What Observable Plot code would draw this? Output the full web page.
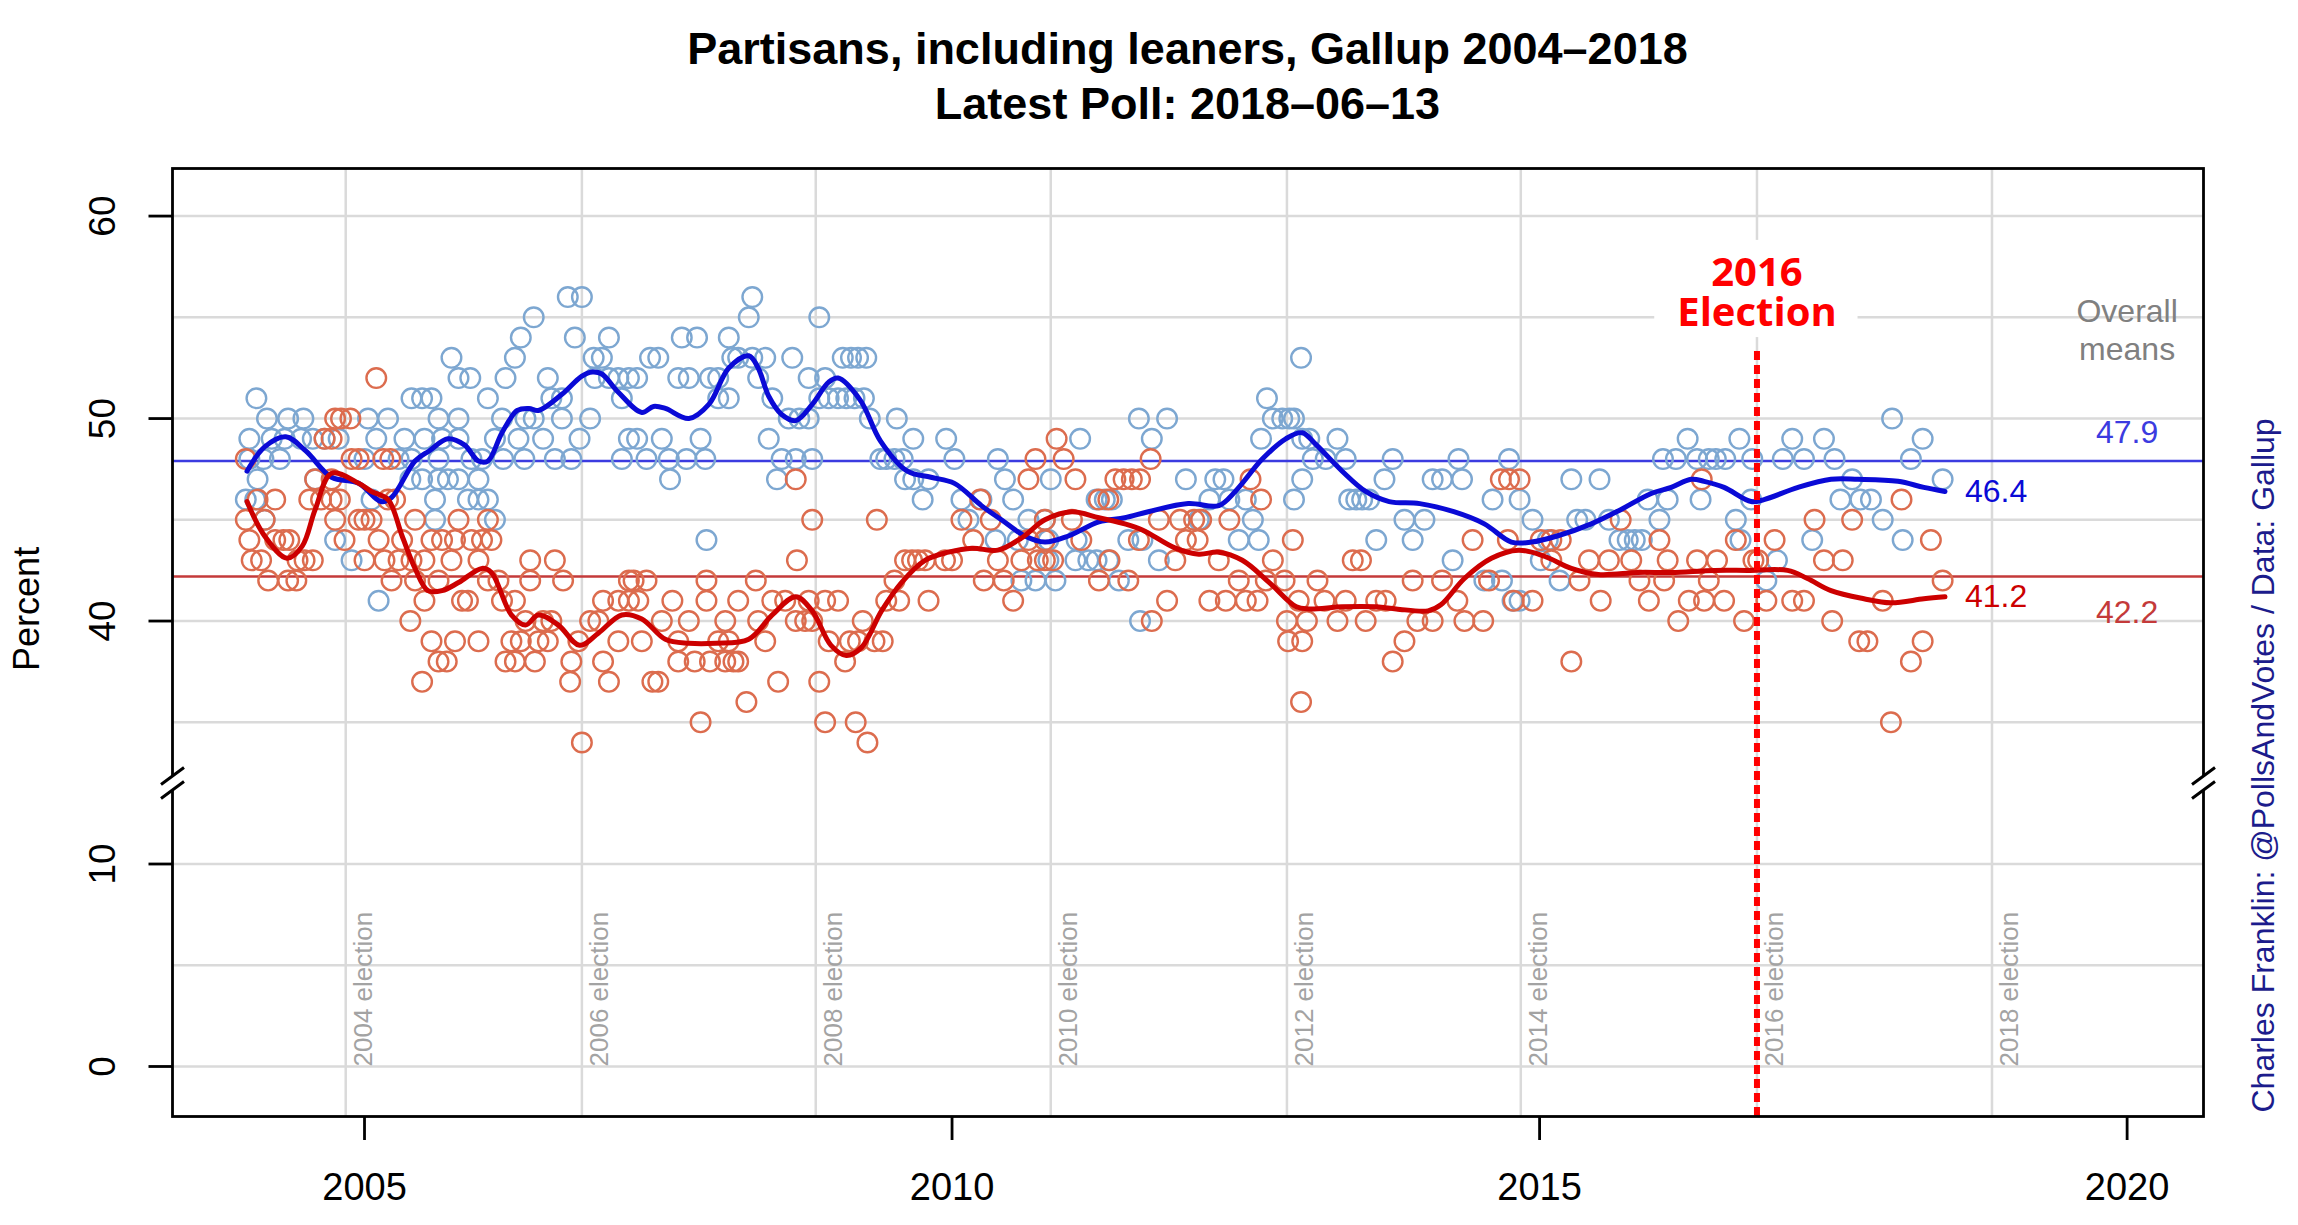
<!DOCTYPE html>
<html><head><meta charset="utf-8">
<script src="https://cdn.jsdelivr.net/npm/d3@7"></script>
<script src="https://cdn.jsdelivr.net/npm/@observablehq/plot@0.6"></script>
<style>
body{margin:0;background:#fff;width:2298px;height:1225px;overflow:hidden;font-family:"Liberation Sans",Arial,sans-serif}
#title{position:relative;height:160px;width:2298px}
#title div{position:absolute;left:172px;width:2031px;text-align:center;font-weight:bold;font-size:45px;color:#000;line-height:1;white-space:nowrap}
</style></head>
<body>
<div id="title"><div style="top:26px">Partisans, including leaners, Gallup 2004–2018</div><div style="top:81px">Latest Poll: 2018–06–13</div></div>
<div id="chart"></div>
<script>
// ---- data (decimal year, percent) ----
const demPolls = [
[2003.99,46],[2004.02,49],[2004.02,48],[2004.07,46],[2004.08,51],[2004.09,47],[2004.14,48],[2004.15,45],[2004.17,50],[2004.21,49],[2004.28,48],[2004.32,49],[2004.35,50],[2004.46,49],[2004.48,50],[2004.56,49],[2004.58,47],[2004.66,49],[2004.75,44],[2004.78,49],[2004.89,43],
[2005.00,48],[2005.03,50],[2005.06,46],[2005.10,49],[2005.12,41],[2005.20,50],[2005.29,48],[2005.34,49],[2005.39,47],[2005.40,51],[2005.40,48],[2005.49,51],[2005.49,47],[2005.51,49],[2005.57,51],[2005.60,46],[2005.60,45],[2005.63,50],[2005.63,48],[2005.63,47],[2005.66,49],[2005.71,47],[2005.74,53],[2005.80,52],[2005.80,50],[2005.80,49],[2005.80,47],[2005.88,46],[2005.90,52],[2005.91,48],[2005.97,47],[2005.97,46],
[2006.00,48],[2006.05,51],[2006.05,46],[2006.11,49],[2006.11,45],[2006.17,50],[2006.18,48],[2006.20,52],[2006.28,53],[2006.31,49],[2006.33,54],[2006.36,48],[2006.37,50],[2006.44,55],[2006.44,50],[2006.52,49],[2006.56,52],[2006.59,51],[2006.62,48],[2006.68,51],[2006.68,50],[2006.73,56],[2006.76,48],[2006.79,54],[2006.83,49],[2006.85,56],[2006.92,50],[2006.95,53],[2006.96,52],
[2007.02,53],[2007.08,54],[2007.08,52],[2007.16,52],[2007.19,51],[2007.19,48],[2007.25,52],[2007.25,49],[2007.32,52],[2007.32,49],[2007.40,48],[2007.43,53],[2007.50,53],[2007.53,49],[2007.59,48],[2007.60,47],[2007.67,52],[2007.70,54],[2007.74,48],[2007.76,52],[2007.83,54],[2007.86,49],[2007.90,48],[2007.91,44],[2007.94,52],
[2008.01,52],[2008.01,51],[2008.10,54],[2008.10,51],[2008.13,53],[2008.18,53],[2008.27,55],[2008.30,56],[2008.30,53],[2008.35,52],[2008.41,53],[2008.44,49],[2008.47,51],[2008.51,47],[2008.55,48],[2008.61,50],[2008.64,53],[2008.67,48],[2008.70,50],[2008.78,52],[2008.78,50],[2008.81,48],[2008.87,55],[2008.87,51],[2008.92,52],[2008.95,51],
[2009.03,51],[2009.07,53],[2009.10,51],[2009.14,53],[2009.17,51],[2009.20,53],[2009.25,51],[2009.27,53],[2009.30,50],[2009.39,48],[2009.44,48],[2009.51,48],[2009.53,50],[2009.58,48],[2009.60,47],[2009.67,49],[2009.67,47],[2009.75,46],[2009.80,47],[2009.95,49],
[2010.02,48],[2010.08,46],[2010.14,45],[2010.25,46],[2010.37,44],[2010.39,48],[2010.45,47],[2010.52,46],[2010.56,44],[2010.59,42],[2010.65,45],[2010.71,42],[2010.79,45],[2010.82,44],[2010.82,43],[2010.84,47],[2010.88,42],
[2011.05,43],[2011.06,44],[2011.09,49],[2011.16,43],[2011.23,46],[2011.23,43],[2011.30,46],[2011.33,43],[2011.36,46],[2011.42,42],[2011.50,44],[2011.59,50],[2011.60,40],[2011.62,44],[2011.70,49],[2011.76,43],[2011.83,50],[2011.99,47],
[2012.10,45],[2012.19,46],[2012.24,47],[2012.31,47],[2012.36,46],[2012.44,44],[2012.50,46],[2012.56,45],[2012.61,44],[2012.63,49],[2012.68,51],[2012.73,50],[2012.81,50],[2012.87,50],[2012.91,50],[2012.91,46],[2012.97,53],[2012.98,49],[2012.98,47],
[2013.04,49],[2013.07,48],[2013.18,48],[2013.28,49],[2013.35,48],[2013.38,46],[2013.44,46],[2013.49,46],[2013.55,46],[2013.61,44],[2013.68,47],[2013.75,48],[2013.85,45],[2013.92,44],
[2014.02,45],[2014.09,47],[2014.17,47],[2014.26,43],[2014.31,48],[2014.34,47],[2014.53,42],[2014.60,46],[2014.68,42],[2014.74,48],[2014.77,41],[2014.83,46],[2014.83,41],[2014.94,45],
[2015.01,43],[2015.07,44],[2015.17,42],[2015.27,47],[2015.32,45],[2015.39,45],[2015.51,47],[2015.59,45],[2015.68,44],[2015.75,44],[2015.81,44],[2015.87,44],[2015.92,46],
[2016.02,45],[2016.05,48],[2016.09,46],[2016.16,48],[2016.26,49],[2016.34,48],[2016.37,46],[2016.44,48],[2016.50,48],[2016.58,48],[2016.67,45],[2016.70,49],[2016.71,44],[2016.80,46],[2016.81,48],[2016.93,42],
[2017.02,43],[2017.07,48],[2017.15,49],[2017.25,48],[2017.32,44],[2017.42,49],[2017.51,48],[2017.56,46],[2017.66,47],[2017.73,46],[2017.82,46],[2017.92,45],
[2018.00,50],[2018.09,44],[2018.16,48],[2018.26,49],[2018.43,47]
];
const repPolls = [
[2003.99,48],[2003.99,45],[2004.02,44],[2004.04,43],[2004.09,46],[2004.12,43],[2004.15,45],[2004.18,42],[2004.24,46],[2004.24,44],[2004.31,44],[2004.35,42],[2004.36,44],[2004.42,42],[2004.43,43],[2004.49,43],[2004.53,46],[2004.56,43],[2004.58,47],[2004.63,46],[2004.66,49],[2004.72,49],[2004.72,47],[2004.72,46],[2004.75,50],[2004.75,45],[2004.79,46],[2004.80,50],[2004.83,44],[2004.88,50],[2004.89,48],[2004.95,48],[2004.95,45],
[2005.00,45],[2005.00,43],[2005.06,45],[2005.10,52],[2005.12,44],[2005.16,48],[2005.17,43],[2005.20,46],[2005.22,48],[2005.23,42],[2005.26,46],[2005.29,43],[2005.32,44],[2005.39,40],[2005.40,43],[2005.43,45],[2005.43,42],[2005.49,37],[2005.51,43],[2005.51,41],[2005.57,44],[2005.57,39],[2005.63,42],[2005.63,38],[2005.66,44],[2005.70,38],[2005.74,43],[2005.77,44],[2005.77,39],[2005.80,45],[2005.83,41],[2005.88,41],[2005.91,44],[2005.97,43],[2005.97,39],
[2006.00,44],[2006.05,45],[2006.05,42],[2006.08,44],[2006.14,42],[2006.17,41],[2006.20,38],[2006.25,39],[2006.28,41],[2006.28,38],[2006.33,39],[2006.37,40],[2006.41,43],[2006.41,42],[2006.45,38],[2006.48,39],[2006.52,40],[2006.56,39],[2006.59,40],[2006.62,43],[2006.69,42],[2006.75,37],[2006.76,38],[2006.82,39],[2006.85,34],[2006.92,40],[2006.99,40],
[2007.03,41],[2007.03,38],[2007.08,37],[2007.16,41],[2007.16,39],[2007.25,42],[2007.25,41],[2007.29,42],[2007.33,41],[2007.36,39],[2007.40,42],[2007.45,37],[2007.50,37],[2007.53,40],[2007.62,41],[2007.67,39],[2007.67,38],[2007.76,40],[2007.81,38],[2007.86,35],[2007.91,42],[2007.91,41],[2007.94,38],
[2008.01,39],[2008.07,40],[2008.07,38],[2008.10,39],[2008.14,38],[2008.18,41],[2008.18,38],[2008.25,36],[2008.33,42],[2008.35,40],[2008.41,39],[2008.47,41],[2008.52,37],[2008.58,41],[2008.67,47],[2008.67,40],[2008.68,43],[2008.75,40],[2008.78,41],[2008.81,45],[2008.81,40],[2008.87,37],[2008.92,41],[2008.92,35],[2008.95,39],
[2009.03,41],[2009.09,38],[2009.13,39],[2009.18,35],[2009.20,39],[2009.24,40],[2009.28,34],[2009.34,39],[2009.36,45],[2009.41,39],[2009.44,41],[2009.51,42],[2009.55,41],[2009.60,43],[2009.66,43],[2009.71,43],[2009.77,43],[2009.80,41],[2009.94,43],
[2010.00,43],[2010.08,45],[2010.18,44],[2010.24,46],[2010.27,42],[2010.33,45],[2010.39,43],[2010.44,42],[2010.52,41],[2010.59,43],[2010.65,47],[2010.65,44],[2010.71,48],[2010.73,43],[2010.79,45],[2010.79,44],[2010.79,43],[2010.86,43],[2010.89,49],[2010.95,48],
[2011.02,45],[2011.05,47],[2011.10,44],[2011.25,46],[2011.25,42],[2011.33,46],[2011.34,43],[2011.39,47],[2011.46,47],[2011.50,42],[2011.53,47],[2011.59,44],[2011.60,47],[2011.69,48],[2011.70,40],[2011.76,45],[2011.83,41],[2011.90,43],[2011.94,45],[2011.99,44],
[2012.06,45],[2012.09,44],[2012.12,45],[2012.19,41],[2012.27,43],[2012.33,41],[2012.36,45],[2012.44,42],[2012.50,41],[2012.54,47],[2012.60,41],[2012.63,46],[2012.67,42],[2012.73,43],[2012.83,42],[2012.85,40],[2012.86,39],[2012.90,44],[2012.95,41],[2012.97,36],[2012.98,39],
[2013.02,40],[2013.11,42],[2013.17,41],[2013.28,40],[2013.35,41],[2013.41,43],[2013.48,43],[2013.52,40],[2013.61,41],[2013.69,41],[2013.75,38],[2013.85,39],[2013.92,42],[2013.96,40],
[2014.09,40],[2014.17,42],[2014.30,41],[2014.36,40],[2014.43,44],[2014.52,40],[2014.57,42],[2014.67,47],[2014.73,44],[2014.74,47],[2014.78,41],[2014.83,47],[2014.94,41],
[2015.01,44],[2015.10,44],[2015.10,43],[2015.18,44],[2015.27,38],[2015.34,42],[2015.42,43],[2015.52,41],[2015.59,43],[2015.69,45],[2015.78,43],[2015.85,42],[2015.93,41],
[2016.02,44],[2016.06,42],[2016.09,43],[2016.18,40],[2016.27,41],[2016.34,43],[2016.38,47],[2016.40,41],[2016.44,42],[2016.51,43],[2016.57,41],[2016.67,44],[2016.74,40],[2016.82,43],[2016.86,43],[2016.93,41],
[2017.00,44],[2017.15,41],[2017.25,41],[2017.34,45],[2017.42,43],[2017.49,40],[2017.58,43],[2017.66,45],[2017.72,39],[2017.79,39],[2017.92,41],[2017.99,35],
[2018.08,46],[2018.16,38],[2018.26,39],[2018.33,44],[2018.43,42]
];
const demTrend = [
[2004.00,47.4],[2004.15,48.6],[2004.33,49.1],[2004.50,48.4],[2004.72,47.1],[2004.95,46.8],[2005.14,45.9],[2005.23,46.1],[2005.43,47.9],[2005.55,48.4],[2005.71,49.0],[2005.85,48.7],[2005.97,47.9],[2006.05,47.9],[2006.17,49.3],[2006.30,50.4],[2006.40,50.5],[2006.48,50.4],[2006.68,51.2],[2006.85,52.1],[2006.94,52.3],[2007.02,52.2],[2007.16,51.3],[2007.36,50.3],[2007.46,50.6],[2007.56,50.5],[2007.76,50.0],[2007.93,50.7],[2008.10,52.5],[2008.27,53.1],[2008.35,52.5],[2008.44,51.1],[2008.55,50.2],[2008.67,49.9],[2008.81,50.7],[2008.95,51.8],[2009.03,52.0],[2009.22,50.9],[2009.39,48.9],[2009.62,47.4],[2009.82,47.1],[2010.02,46.8],[2010.25,45.7],[2010.42,45.0],[2010.62,44.2],[2010.79,43.9],[2010.99,44.2],[2011.25,44.9],[2011.47,45.1],[2011.67,45.4],[2012.01,45.8],[2012.27,45.7],[2012.41,46.4],[2012.64,48.0],[2012.84,49.0],[2012.98,49.3],[2013.10,48.7],[2013.32,47.4],[2013.52,46.4],[2013.72,45.9],[2013.98,45.8],[2014.27,45.4],[2014.53,44.8],[2014.76,43.9],[2014.93,43.9],[2015.15,44.2],[2015.44,44.8],[2015.69,45.5],[2015.95,46.3],[2016.12,46.6],[2016.29,47.0],[2016.40,46.9],[2016.57,46.6],[2016.80,45.9],[2016.91,46.0],[2017.20,46.6],[2017.48,47.0],[2017.71,47.0],[2018.05,46.9],[2018.27,46.6],[2018.45,46.4]
];
const repTrend = [
[2004.00,45.9],[2004.15,44.2],[2004.34,43.1],[2004.47,43.7],[2004.58,45.5],[2004.72,47.3],[2004.95,46.8],[2005.06,46.4],[2005.20,46.0],[2005.32,44.2],[2005.43,42.6],[2005.54,41.5],[2005.66,41.5],[2005.80,41.9],[2006.00,42.6],[2006.08,42.4],[2006.25,40.3],[2006.37,39.8],[2006.48,40.3],[2006.65,39.8],[2006.83,38.8],[2006.99,39.4],[2007.19,40.3],[2007.36,40.1],[2007.56,39.1],[2007.76,38.9],[2007.99,38.9],[2008.27,39.1],[2008.47,40.3],[2008.67,41.2],[2008.81,40.5],[2008.97,38.8],[2009.10,38.3],[2009.23,38.7],[2009.40,40.5],[2009.57,41.9],[2009.77,43.0],[2009.97,43.4],[2010.17,43.6],[2010.39,43.5],[2010.59,44.1],[2010.79,45.0],[2011.02,45.4],[2011.25,45.1],[2011.47,44.8],[2011.62,44.5],[2011.90,43.6],[2012.10,43.3],[2012.27,43.4],[2012.47,43.0],[2012.70,41.9],[2012.93,40.7],[2013.04,40.6],[2013.32,40.7],[2013.61,40.7],[2013.78,40.6],[2014.05,40.5],[2014.16,40.8],[2014.36,42.1],[2014.59,43.1],[2014.82,43.5],[2015.04,43.2],[2015.27,42.6],[2015.50,42.3],[2015.84,42.4],[2016.12,42.4],[2016.49,42.5],[2016.77,42.5],[2017.11,42.5],[2017.28,42.1],[2017.48,41.5],[2017.76,41.1],[2017.99,40.9],[2018.27,41.1],[2018.45,41.2]
];
const overallMeans = [47.9, 42.2];           // Dem, Rep
const electionYears = [2004, 2006, 2008, 2010, 2012, 2014, 2016, 2018];
const electionDates = [2004.84, 2006.85, 2008.84, 2010.84, 2012.85, 2014.84, 2016.85, 2018.85];
const xTicks = [2005, 2010, 2015, 2020];
const yTicks = [0, 10, 40, 50, 60];
const yGrid = [0, 5, 10, 35, 40, 45, 50, 55, 60];
const breakAt = 14;          // broken axis position (lower-panel units)

// ---- styling ----
const DEM_PT = "#7da7d1", REP_PT = "#dc6c4e";
const DEM_LN = "#0a0ad6", REP_LN = "#cc0000";
const DEM_MEAN = "#3b3be0", REP_MEAN = "#c43a3a";
const GRID = "#dadada";

// broken y axis: values above the gap are shifted down by 18
const brk = v => v >= 25 ? v - 18 : v;

const tickLeft = {draw(ctx) { ctx.moveTo(-24, 0); ctx.lineTo(0, 0); }};
const gap = {draw(ctx) { ctx.rect(-4, -7, 8, 14); }};
const slashes = {draw(ctx) {
  ctx.moveTo(-11.5, 1.5); ctx.lineTo(11.5, -15.5);
  ctx.moveTo(-11.5, 15.5); ctx.lineTo(11.5, -1.5);
}};

const demLast = demTrend[demTrend.length - 1];
const repLast = repTrend[repTrend.length - 1];
// annotation: note text and its white backing box (years / percent)
const electionNote = ["2016\nElection"];
const noteBox = [{x1: 2015.98, x2: 2017.71, y1: 54.0, y2: 58.8}];

const chart = Plot.plot({
  width: 2298,
  height: 1065,
  marginLeft: 172,
  marginRight: 95,
  marginTop: 8,
  marginBottom: 109,
  style: {fontFamily: "Liberation Sans, Arial, sans-serif", background: "white", color: "black"},
  x: {domain: [2003.366, 2020.65]},
  y: {domain: [-2.47, 44.35], transform: brk, axis: null},
  marks: [
    Plot.ruleY(yGrid, {stroke: GRID, strokeWidth: 2.5}),
    Plot.ruleX(electionDates, {stroke: GRID, strokeWidth: 2.5}),
    Plot.text(electionDates, {x: d => d, y: 0, text: (d, i) => `${electionYears[i]} election`, rotate: -90, textAnchor: "start", lineAnchor: "middle", dx: 18, fill: "#a3a3a3", fontSize: 26}),
    Plot.ruleY([overallMeans[0]], {stroke: DEM_MEAN, strokeWidth: 2.5}),
    Plot.ruleY([overallMeans[1]], {stroke: REP_MEAN, strokeWidth: 2.5}),
    Plot.dot(demPolls, {x: d => d[0], y: d => d[1], r: 9.8, stroke: DEM_PT, strokeWidth: 2.4, fill: "none"}),
    Plot.dot(repPolls, {x: d => d[0], y: d => d[1], r: 9.8, stroke: REP_PT, strokeWidth: 2.4, fill: "none"}),
    Plot.line(demTrend, {x: d => d[0], y: d => d[1], stroke: DEM_LN, strokeWidth: 5, curve: "catmull-rom"}),
    Plot.line(repTrend, {x: d => d[0], y: d => d[1], stroke: REP_LN, strokeWidth: 5, curve: "catmull-rom"}),
    Plot.ruleX([electionDates[6]], {y1: -2.47, y2: 53.4, stroke: "#ff0000", strokeWidth: 6, strokeDasharray: "9,5"}),
    Plot.rect(noteBox, {x1: "x1", x2: "x2", y1: "y1", y2: "y2", fill: "white"}),
    Plot.text(electionNote, {x: electionDates[6], y: 56.2, fill: "#ff0000", fontFamily: "Open Sans", fontWeight: 700, fontSize: 40, lineHeight: 1}),
    Plot.text(["Overall\nmeans"], {x: 2020, y: 54.45, fill: "#808080", fontSize: 32, lineHeight: 1.2}),
    Plot.text([overallMeans[0]], {x: 2020, y: d => d, text: d => d.toFixed(1), dy: -28, fill: DEM_MEAN, fontSize: 32}),
    Plot.text([overallMeans[1]], {x: 2020, y: d => d, text: d => d.toFixed(1), dy: 36, fill: REP_MEAN, fontSize: 32}),
    Plot.text([demLast], {x: d => d[0], y: d => d[1], text: d => d[1].toFixed(1), textAnchor: "start", dx: 20, fill: DEM_LN, fontSize: 32}),
    Plot.text([repLast], {x: d => d[0], y: d => d[1], text: d => d[1].toFixed(1), textAnchor: "start", dx: 20, fill: REP_LN, fontSize: 32}),
    Plot.frame({stroke: "black", strokeWidth: 2.8}),
    Plot.dot([breakAt], {y: d => d, frameAnchor: "left", symbol: gap, fill: "white", stroke: "none"}),
    Plot.dot([breakAt], {y: d => d, frameAnchor: "right", symbol: gap, fill: "white", stroke: "none"}),
    Plot.dot([breakAt], {y: d => d, frameAnchor: "left", symbol: slashes, fill: "none", stroke: "black", strokeWidth: 3}),
    Plot.dot([breakAt], {y: d => d, frameAnchor: "right", symbol: slashes, fill: "none", stroke: "black", strokeWidth: 3}),
    Plot.dot(yTicks, {y: d => d, frameAnchor: "left", symbol: tickLeft, fill: "none", stroke: "black", strokeWidth: 2.8}),
    Plot.text(yTicks, {y: d => d, text: d => String(d), frameAnchor: "left", textAnchor: "middle", lineAnchor: "middle", dx: -69, rotate: -90, fontSize: 37, fill: "black"}),
    Plot.axisX({ticks: xTicks, tickFormat: d => String(d), tickSize: 24, tickPadding: 33, fontSize: 38, strokeWidth: 2.8, label: null}),
    Plot.text(["Percent"], {y: 40.6, frameAnchor: "left", textAnchor: "middle", lineAnchor: "middle", dx: -145, rotate: -90, fontSize: 36, fill: "black"}),
    Plot.text(["Charles Franklin: @PollsAndVotes / Data: Gallup"], {frameAnchor: "bottom-right", dx: 60, dy: -4, rotate: -90, textAnchor: "start", lineAnchor: "middle", fontSize: 32, fill: "#1c1c8c"})
  ]
});
document.getElementById("chart").append(chart);
</script>
</body></html>
